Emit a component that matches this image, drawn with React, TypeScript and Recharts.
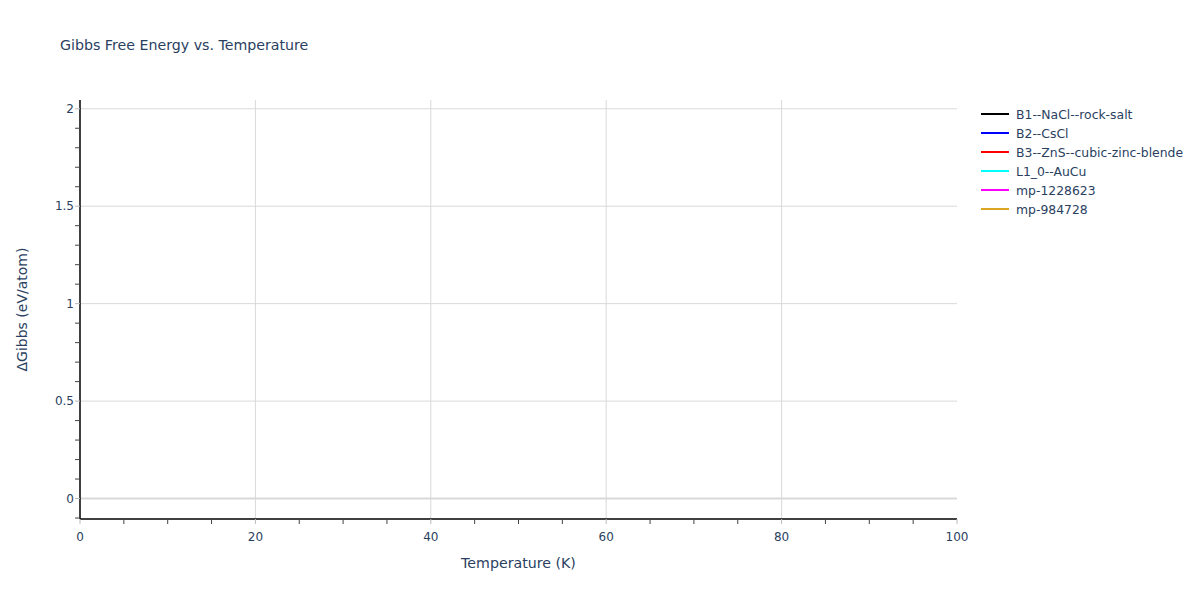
import React from 'react';
import { LineChart, Line, XAxis, YAxis, ReferenceLine } from 'recharts';

// temperature grid (K) and series; the reference shows no plotted values
const temperatures = [0, 10, 20, 30, 40, 50, 60, 70, 80, 90, 100];
const seriesNames = [
  'B1--NaCl--rock-salt',
  'B2--CsCl',
  'B3--ZnS--cubic-zinc-blende',
  'L1_0--AuCu',
  'mp-1228623',
  'mp-984728',
];
const seriesColors = ['#000000', '#0000ff', '#ff0000', '#00ffff', '#ff00ff', '#daa520'];
const seriesValues: (number | null)[][] = [
  [null, null, null, null, null, null, null, null, null, null, null],
  [null, null, null, null, null, null, null, null, null, null, null],
  [null, null, null, null, null, null, null, null, null, null, null],
  [null, null, null, null, null, null, null, null, null, null, null],
  [null, null, null, null, null, null, null, null, null, null, null],
  [null, null, null, null, null, null, null, null, null, null, null],
];

const xTicks = [0, 5, 10, 15, 20, 25, 30, 35, 40, 45, 50, 55, 60, 65, 70, 75, 80, 85, 90, 95, 100];
const xMajor = [0, 20, 40, 60, 80, 100];
const yTicks = [-0.1, 0, 0.1, 0.2, 0.3, 0.4, 0.5, 0.6, 0.7, 0.8, 0.9, 1, 1.1, 1.2, 1.3, 1.4, 1.5, 1.6, 1.7, 1.8, 1.9, 2];
const yMajor = [0, 0.5, 1, 1.5, 2];

const data = temperatures.map((t, i) => {
  const row: Record<string, number | null> = { temperature: t };
  seriesNames.forEach((name, s) => {
    row[name] = seriesValues[s][i];
  });
  return row;
});

const FONT = '"DejaVu Sans", verdana, arial, sans-serif';
const TEXT = '#2a3f5f';
const GRID = '#d9d9d9';

const isMajor = (list: number[], v: number) => list.some((m) => Math.abs(m - v) < 1e-6);

const XTick = (props: any) => {
  const { x, y, payload } = props;
  const major = isMajor(xMajor, payload.value);
  return (
    <g>
      <line x1={x} x2={x} y1={y} y2={y + 5} stroke={major ? '#bbbbbb' : '#444444'} strokeWidth={1} />
      {major && (
        <text x={x} y={y + 22} textAnchor="middle" fontSize={12} fontFamily={FONT} fill={TEXT}>
          {payload.value}
        </text>
      )}
    </g>
  );
};

const YTick = (props: any) => {
  const { x, y, payload } = props;
  const major = isMajor(yMajor, payload.value);
  return (
    <g>
      <line x1={x} x2={x - 5} y1={y} y2={y} stroke={major ? '#bbbbbb' : '#444444'} strokeWidth={1} />
      {major && (
        <text x={x - 6} y={y + 4} textAnchor="end" fontSize={12} fontFamily={FONT} fill={TEXT}>
          {payload.value}
        </text>
      )}
    </g>
  );
};

export default function App() {
  return (
    <div style={{ position: 'absolute', left: 0, top: 0, width: 1200, height: 600, background: '#fff' }}>
      <LineChart
        width={1200}
        height={600}
        data={data}
        margin={{ top: 100, right: 243, bottom: 51, left: 30 }}
      >
        <text x={60} y={50} fontSize={14.2} fontFamily={FONT} fill={TEXT}>
          Gibbs Free Energy vs. Temperature
        </text>
        <text x={518.5} y={568} textAnchor="middle" fontSize={14.2} fontFamily={FONT} fill={TEXT}>
          Temperature (K)
        </text>
        <text
          x={27}
          y={309.5}
          textAnchor="middle"
          fontSize={14}
          fontFamily={FONT}
          fill={TEXT}
          transform="rotate(-90 27 309.5)"
        >
          ΔGibbs (eV/atom)
        </text>
        {xMajor.slice(1, -1).map((v) => (
          <ReferenceLine key={'gx' + v} x={v} stroke={GRID} strokeWidth={1} />
        ))}
        {yMajor.slice(1).map((v) => (
          <ReferenceLine key={'gy' + v} y={v} stroke={GRID} strokeWidth={1} />
        ))}
        <ReferenceLine y={0} stroke={GRID} strokeWidth={2} />
        <XAxis
          dataKey="temperature"
          type="number"
          domain={[0, 100]}
          ticks={xTicks}
          interval={0}
          tickSize={0}
          tickMargin={0}
          tickLine={false}
          tick={<XTick />}
          axisLine={{ stroke: '#000', strokeWidth: 1.5 }}
          height={30}
        />
        <YAxis
          type="number"
          domain={[-0.105, 2.045]}
          ticks={yTicks}
          interval={0}
          tickSize={0}
          tickMargin={0}
          tickLine={false}
          tick={<YTick />}
          axisLine={{ stroke: '#000', strokeWidth: 1.5 }}
          width={50}
          allowDataOverflow
        />
        <g>
          {seriesNames.map((name, i) => (
            <g key={name}>
              <line
                x1={981}
                x2={1009}
                y1={114 + i * 19}
                y2={114 + i * 19}
                stroke={seriesColors[i]}
                strokeWidth={2}
              />
              <text x={1016} y={118.5 + i * 19} fontSize={12.4} fontFamily={FONT} fill={TEXT}>
                {name}
              </text>
            </g>
          ))}
        </g>
        {seriesNames.map((name, i) => (
          <Line
            key={name}
            dataKey={name}
            stroke={seriesColors[i]}
            strokeWidth={2}
            dot={false}
            connectNulls={false}
            isAnimationActive={false}
          />
        ))}
      </LineChart>
    </div>
  );
}
